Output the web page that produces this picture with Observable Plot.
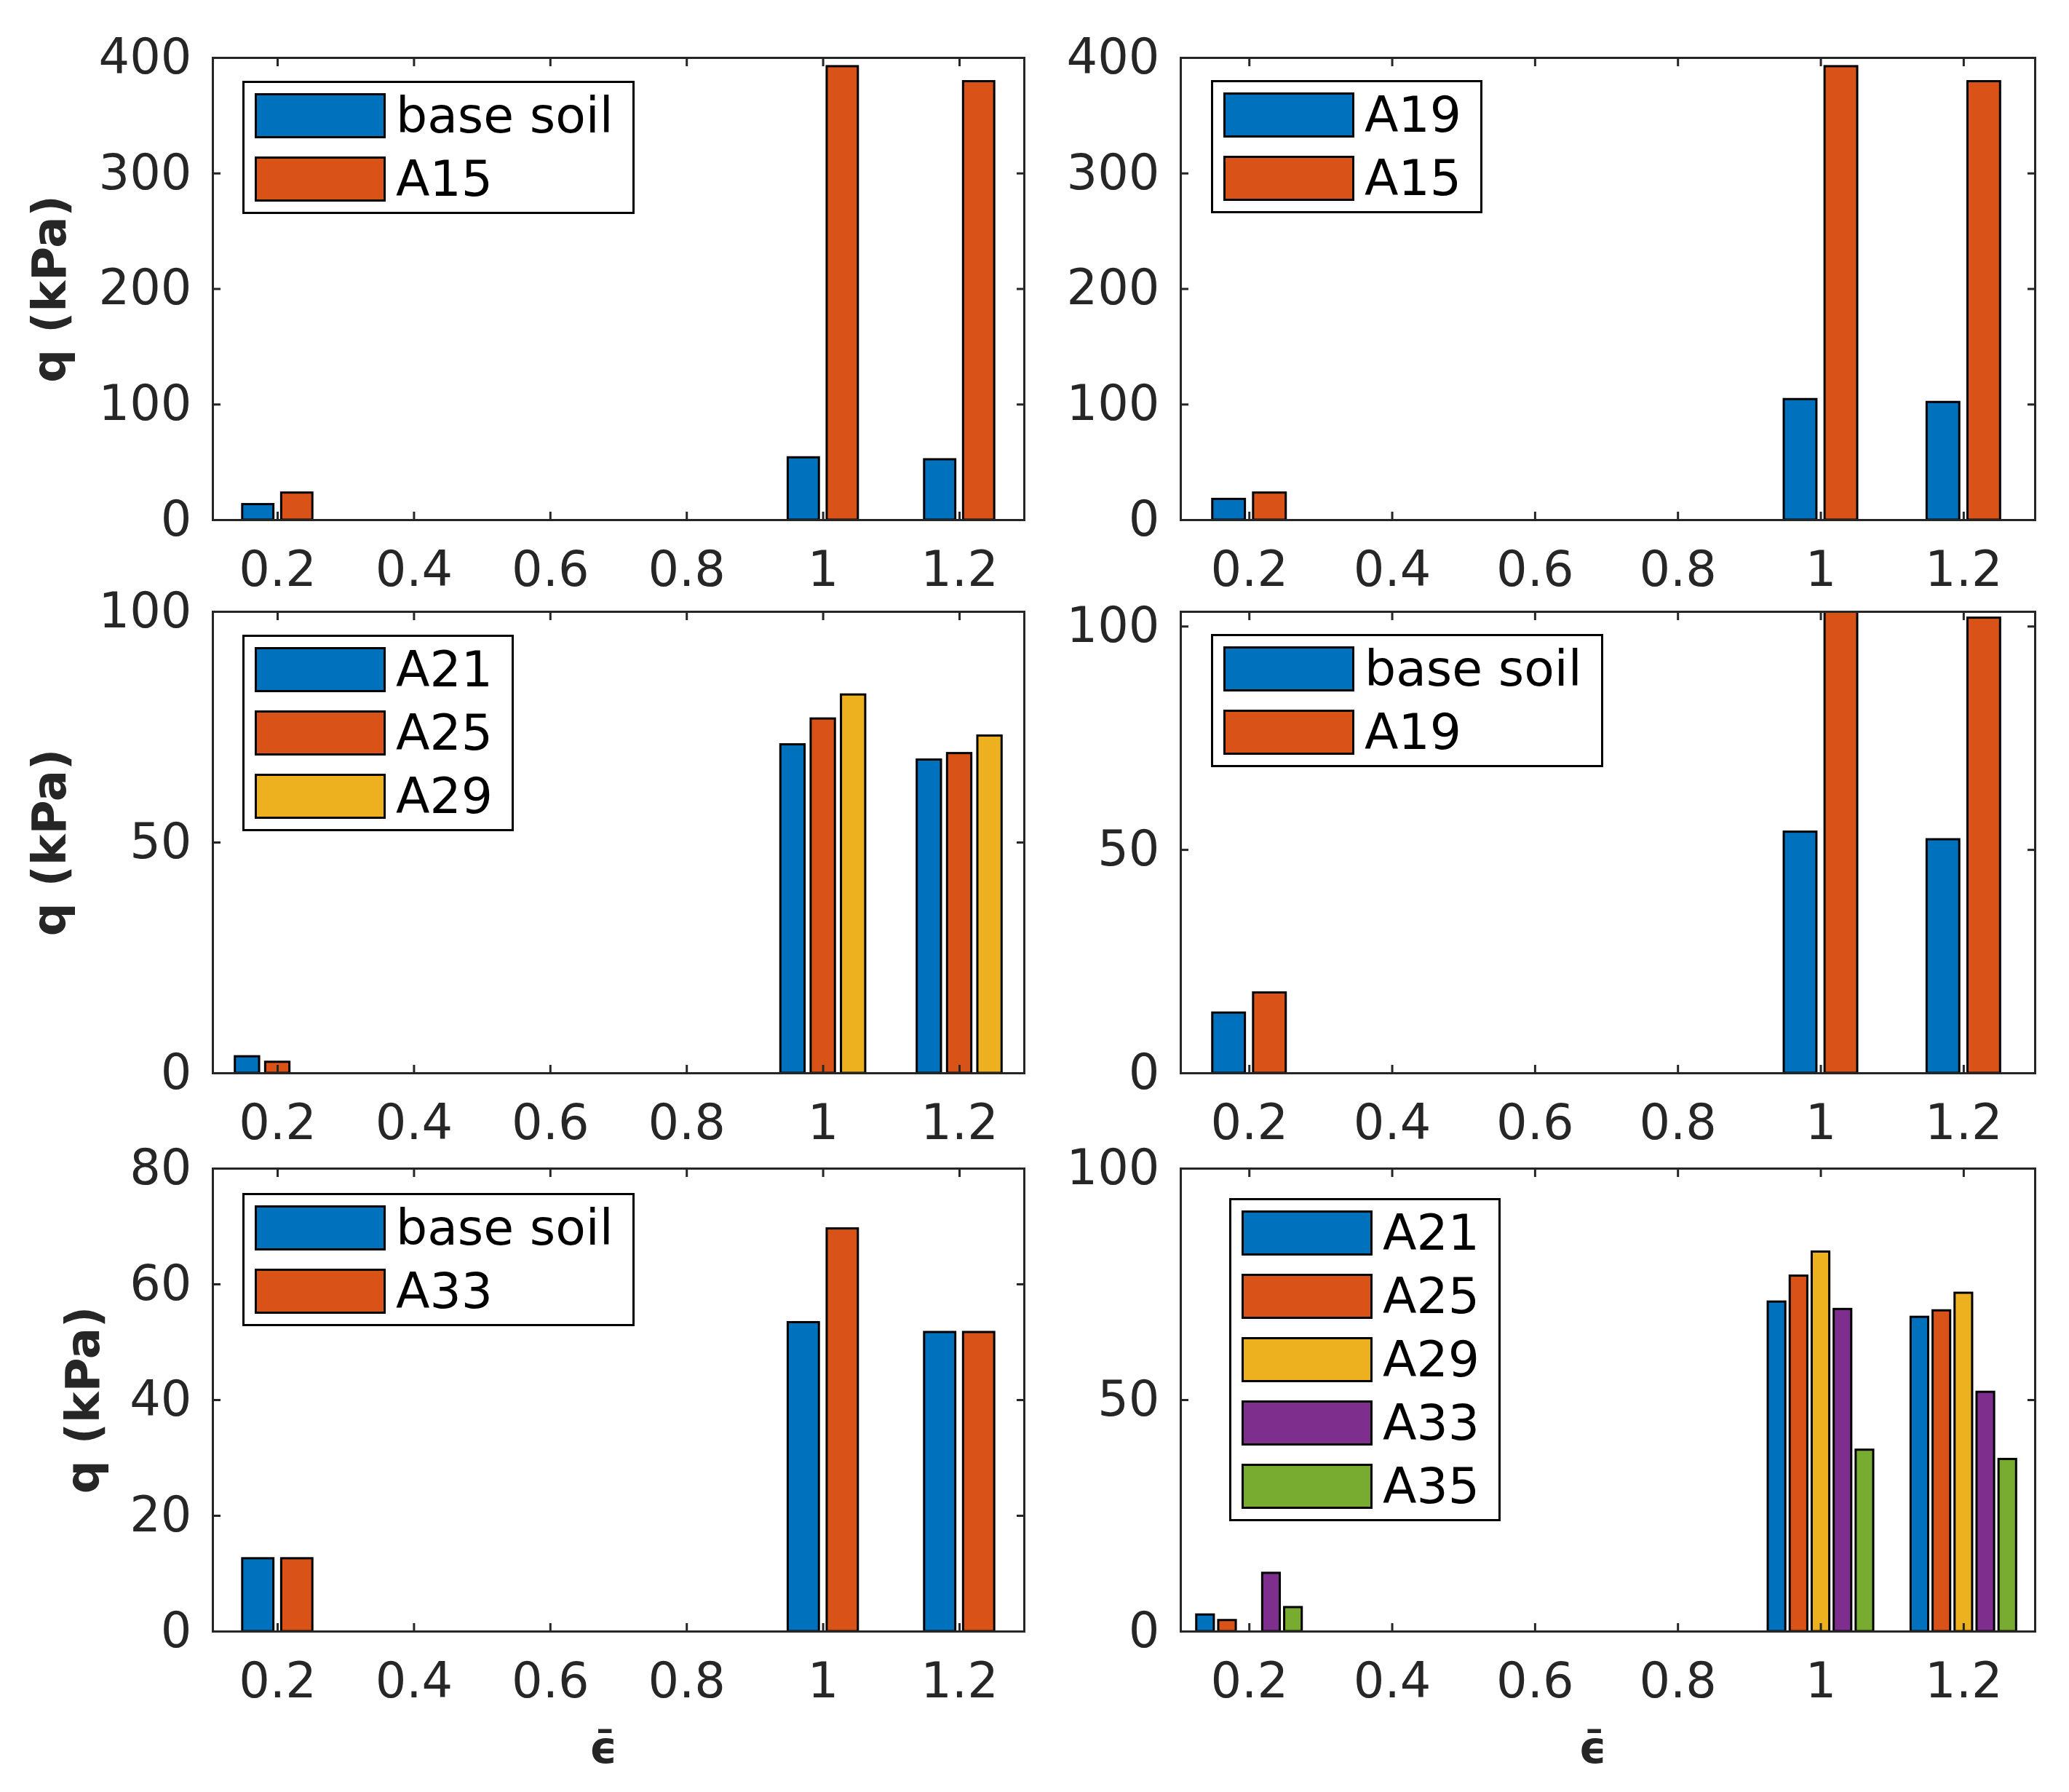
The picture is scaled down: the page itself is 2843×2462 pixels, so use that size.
<!DOCTYPE html>
<html>
<head>
<meta charset="utf-8">
<script src="https://cdn.jsdelivr.net/npm/d3@7"></script>
<script src="https://cdn.jsdelivr.net/npm/@observablehq/plot@0.6"></script>
<style>
  body { margin: 0; background: #fff; }
  #page { position: relative; width: 2843px; height: 2462px; overflow: hidden; font-family: "DejaVu Sans", sans-serif; }
  .cell { position: absolute; }
  .legend { position: absolute; background: #fff; border: 3px solid #000; padding: 14px 26px 14px 14px; }
  .row { display: flex; align-items: center; height: 62px; margin-bottom: 25px; }
  .row:last-child { margin-bottom: 0; }
  .sw { width: 180px; height: 62px; border: 3px solid #000; box-sizing: border-box; margin-right: 14px; }
  .lab { font-size: 68px; line-height: 62px; color: #000; white-space: nowrap; }
</style>
</head>
<body>
<div id="page"></div>
<script>
// strain values (x) and q in kPa for each mixture
const xVals = [0.2, 1, 1.2];
const xTicks = [0.2, 0.4, 0.6, 0.8, 1, 1.2];
const baseSoil = [13.5, 54, 52.3];
const baseSoilB = [12.6, 53.4, 51.7];
const a15 = [23.5, 392.5, 379.5];
const a19 = [18, 104.4, 101.9];
const a21 = [3.6, 71.2, 67.9];
const a25 = [2.4, 76.8, 69.3];
const a29 = [0, 82, 73.1];
const a33 = [12.6, 69.6, 51.7];
const a35 = [5.2, 39.2, 37.2];

const colors = ["#0072BD", "#D95319", "#EDB120", "#7E2F8E", "#77AC30"];

// cell geometry: [left, width, marginLeft, marginRight] per column, [top, height, marginTop, marginBottom] per row
const cols = [[0, 1420, 292, 13], [1420, 1423, 202, 47]];
const rows = [[0, 790, 79, 76], [790, 770, 50, 86], [1560, 902, 45, 221]];
const xDomains = [[0.105, 1.295], [0.104, 1.3]];

const panels = [
  {col: 0, row: 0, names: ["base soil", "A15"], series: [baseSoil, a15], yDomain: [0, 400], yTicks: [0, 100, 200, 300, 400], legend: [333, 111], ylab: 223},
  {col: 1, row: 0, names: ["A19", "A15"], series: [a19, a15], yDomain: [0, 400], yTicks: [0, 100, 200, 300, 400], legend: [1664, 110]},
  {col: 0, row: 1, names: ["A21", "A25", "A29"], series: [a21, a25, a29], yDomain: [0, 100], yTicks: [0, 50, 100], legend: [333, 872], ylab: 223},
  {col: 1, row: 1, names: ["base soil", "A19"], series: [baseSoil, a19], yDomain: [0, 103.3], yTicks: [0, 50, 100], legend: [1664, 871]},
  {col: 0, row: 2, names: ["base soil", "A33"], series: [baseSoilB, a33], yDomain: [0, 80], yTicks: [0, 20, 40, 60, 80], legend: [333, 1639], ylab: 177, xlab: true},
  {col: 1, row: 2, names: ["A21", "A25", "A29", "A33", "A35"], series: [a21, a25, a29, a33, a35], yDomain: [0, 100], yTicks: [0, 50, 100], legend: [1689, 1646], xlab: true}
];

// MATLAB style grouped bars
function groupLayout(n) {
  const gw = Math.min(0.8, n / (n + 1.5));
  const step = 0.2 * gw / n;
  return {offset: i => (i - (n - 1) / 2) * step, width: 0.8 * step};
}

const page = document.getElementById("page");

panels.forEach(p => {
  const [cx, cw, ml, mr] = cols[p.col];
  const [cy, ch, mt, mb] = rows[p.row];
  const g = groupLayout(p.series.length);
  const bars = [];
  p.series.forEach((vals, i) => {
    vals.forEach((v, j) => {
      if (v <= 0) return;
      const c = xVals[j] + g.offset(i);
      bars.push({x1: c - g.width / 2, x2: c + g.width / 2, q: v, color: colors[i]});
    });
  });

  const marks = [
    Plot.rectY(bars, {x1: "x1", x2: "x2", y1: 0, y2: "q", fill: "color", stroke: "#000", strokeWidth: 3, clip: true}),
    Plot.axisX({anchor: "bottom", ticks: xTicks, tickFormat: d => `${d}`, tickSize: -11, tickPadding: 54, label: null, strokeWidth: 3, fontSize: 67}),
    Plot.axisX({anchor: "top", ticks: xTicks, tickSize: -11, tickFormat: () => "", label: null, strokeWidth: 3}),
    Plot.axisY({anchor: "left", ticks: p.yTicks, tickFormat: d => `${d}`, tickSize: -11, tickPadding: 40, label: null, strokeWidth: 3, fontSize: 67}),
    Plot.axisY({anchor: "right", ticks: p.yTicks, tickSize: -11, tickFormat: () => "", label: null, strokeWidth: 3}),
    Plot.frame({stroke: "#262626", strokeWidth: 3})
  ];
  if (p.ylab) {
    marks.push(Plot.text(["q (kPa)"], {text: d => d, frameAnchor: "left", textAnchor: "middle", dx: -p.ylab, rotate: -90, fontSize: 64, fontWeight: "bold", fill: "#262626"}));
  }
  if (p.xlab) {
    marks.push(Plot.text(["\u03F5\u0304"], {text: d => d, frameAnchor: "bottom", textAnchor: "middle", dx: -21, dy: 180, fontSize: 60, fontWeight: "bold", fill: "#262626"}));
  }

  const chart = Plot.plot({
    width: cw,
    height: ch,
    marginLeft: ml,
    marginRight: mr,
    marginTop: mt,
    marginBottom: mb,
    x: {domain: xDomains[p.col]},
    y: {domain: p.yDomain},
    color: {type: "identity"},
    style: {fontFamily: "DejaVu Sans", fontSize: "67px", color: "#262626", background: "transparent", overflow: "visible"},
    marks
  });
  const cell = document.createElement("div");
  cell.className = "cell";
  cell.style.left = cx + "px";
  cell.style.top = cy + "px";
  cell.appendChild(chart);
  page.appendChild(cell);

  const lg = document.createElement("div");
  lg.className = "legend";
  lg.style.left = p.legend[0] + "px";
  lg.style.top = p.legend[1] + "px";
  p.names.forEach((name, i) => {
    const r = document.createElement("div");
    r.className = "row";
    const sw = document.createElement("div");
    sw.className = "sw";
    sw.style.background = colors[i];
    const t = document.createElement("span");
    t.className = "lab";
    t.textContent = name;
    r.appendChild(sw);
    r.appendChild(t);
    lg.appendChild(r);
  });
  page.appendChild(lg);
});
</script>
</body>
</html>
